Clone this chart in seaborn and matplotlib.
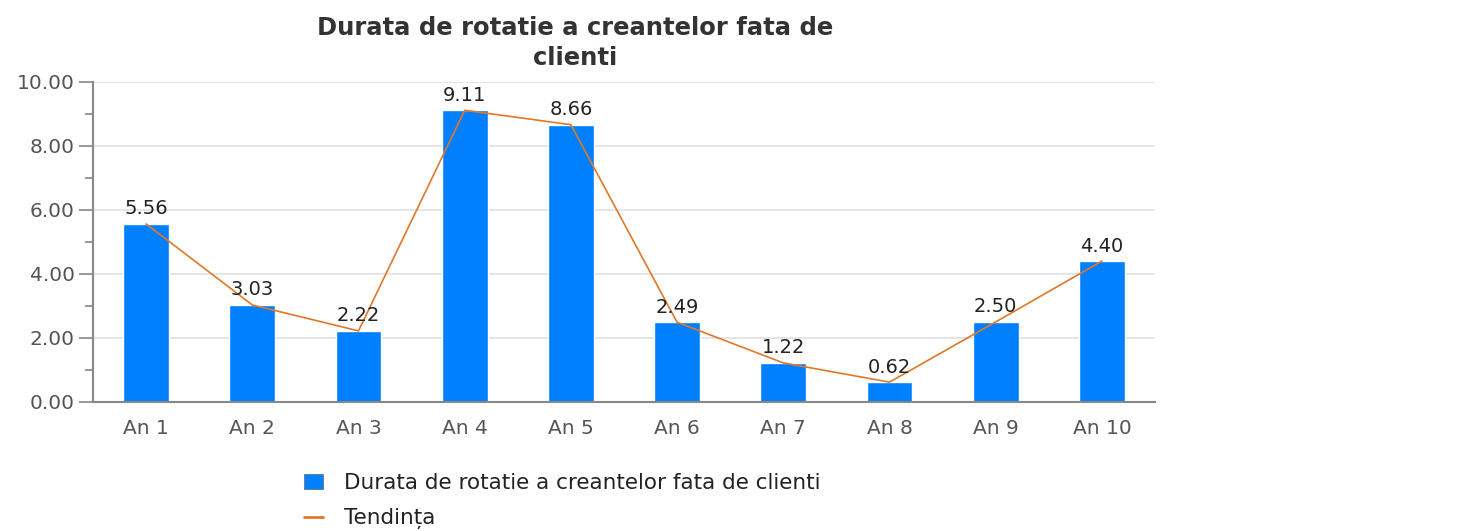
import numpy as np
import pandas as pd
import matplotlib
matplotlib.use('Agg')
import matplotlib.pyplot as plt
from matplotlib.ticker import MultipleLocator, FormatStrFormatter
from matplotlib.lines import Line2D
from matplotlib.patches import Patch
import seaborn as sns

# data
years = ['An 1', 'An 2', 'An 3', 'An 4', 'An 5', 'An 6', 'An 7', 'An 8', 'An 9', 'An 10']
durata = [5.56, 3.03, 2.22, 9.11, 8.66, 2.49, 1.22, 0.62, 2.50, 4.40]

title = 'Durata de rotatie a creantelor fata de\nclienti'
bar_label = 'Durata de rotatie a creantelor fata de clienti'
line_label = 'Tendința'

BLUE = '#0080FF'
ORANGE = '#E07828'

sns.set_style('white')
plt.rcParams['font.family'] = ['DejaVu Sans']
plt.rcParams['font.sans-serif'] = ['DejaVu Sans']

fig = plt.figure(figsize=(14.62, 5.31), dpi=100)
ax = fig.add_axes([0.0636, 0.243, 0.7264, 0.603])

df = pd.DataFrame({'An': years, 'Durata': durata})
sns.barplot(data=df, x='An', y='Durata', color=BLUE, width=0.43,
            saturation=1, ax=ax, zorder=2)
sns.lineplot(x=np.arange(len(years)), y=durata, color=ORANGE, lw=1.2,
             ax=ax, zorder=3)

ax.bar_label(ax.containers[0], fmt='%.2f', padding=4, fontsize=14, color='#222222')

ax.set_xlim(-0.5, len(years) - 0.5)
ax.set_ylim(0, 10)
ax.yaxis.set_major_locator(MultipleLocator(2))
ax.yaxis.set_minor_locator(MultipleLocator(1))
ax.yaxis.set_major_formatter(FormatStrFormatter('%.2f'))
ax.grid(axis='y', which='major', color='#E0E0E0', lw=1.2, zorder=0)
ax.set_axisbelow(True)
ax.set_xlabel('')
ax.set_ylabel('')

for side in ['top', 'right']:
    ax.spines[side].set_visible(False)
for side in ['left', 'bottom']:
    ax.spines[side].set_color('#888888')
    ax.spines[side].set_linewidth(1.5)

ax.tick_params(axis='y', which='major', length=10, width=1.2, color='#888888',
               labelsize=14.5, labelcolor='#555555', pad=3, left=True)
ax.tick_params(axis='y', which='minor', length=6, width=1.2, color='#888888', left=True)
ax.tick_params(axis='x', length=0, labelsize=14.5, labelcolor='#555555', pad=12)

fig.text(575 / 1462, 1 - 43 / 531, title, ha='center', va='center', fontsize=17.5,
         fontweight='bold', color='#333333', linespacing=1.35)

handles = [Patch(facecolor=BLUE, edgecolor='#666666', lw=0.5, label=bar_label),
           Line2D([0], [0], color=ORANGE, lw=2, label=line_label)]
fig.legend(handles=handles, loc='upper left', bbox_to_anchor=(0.195, 0.145),
           frameon=False, fontsize=15.5, handlelength=0.85, handleheight=0.7,
           labelspacing=0.7, handletextpad=1.0, labelcolor='#222222')

fig.savefig('out.png', dpi=100)
